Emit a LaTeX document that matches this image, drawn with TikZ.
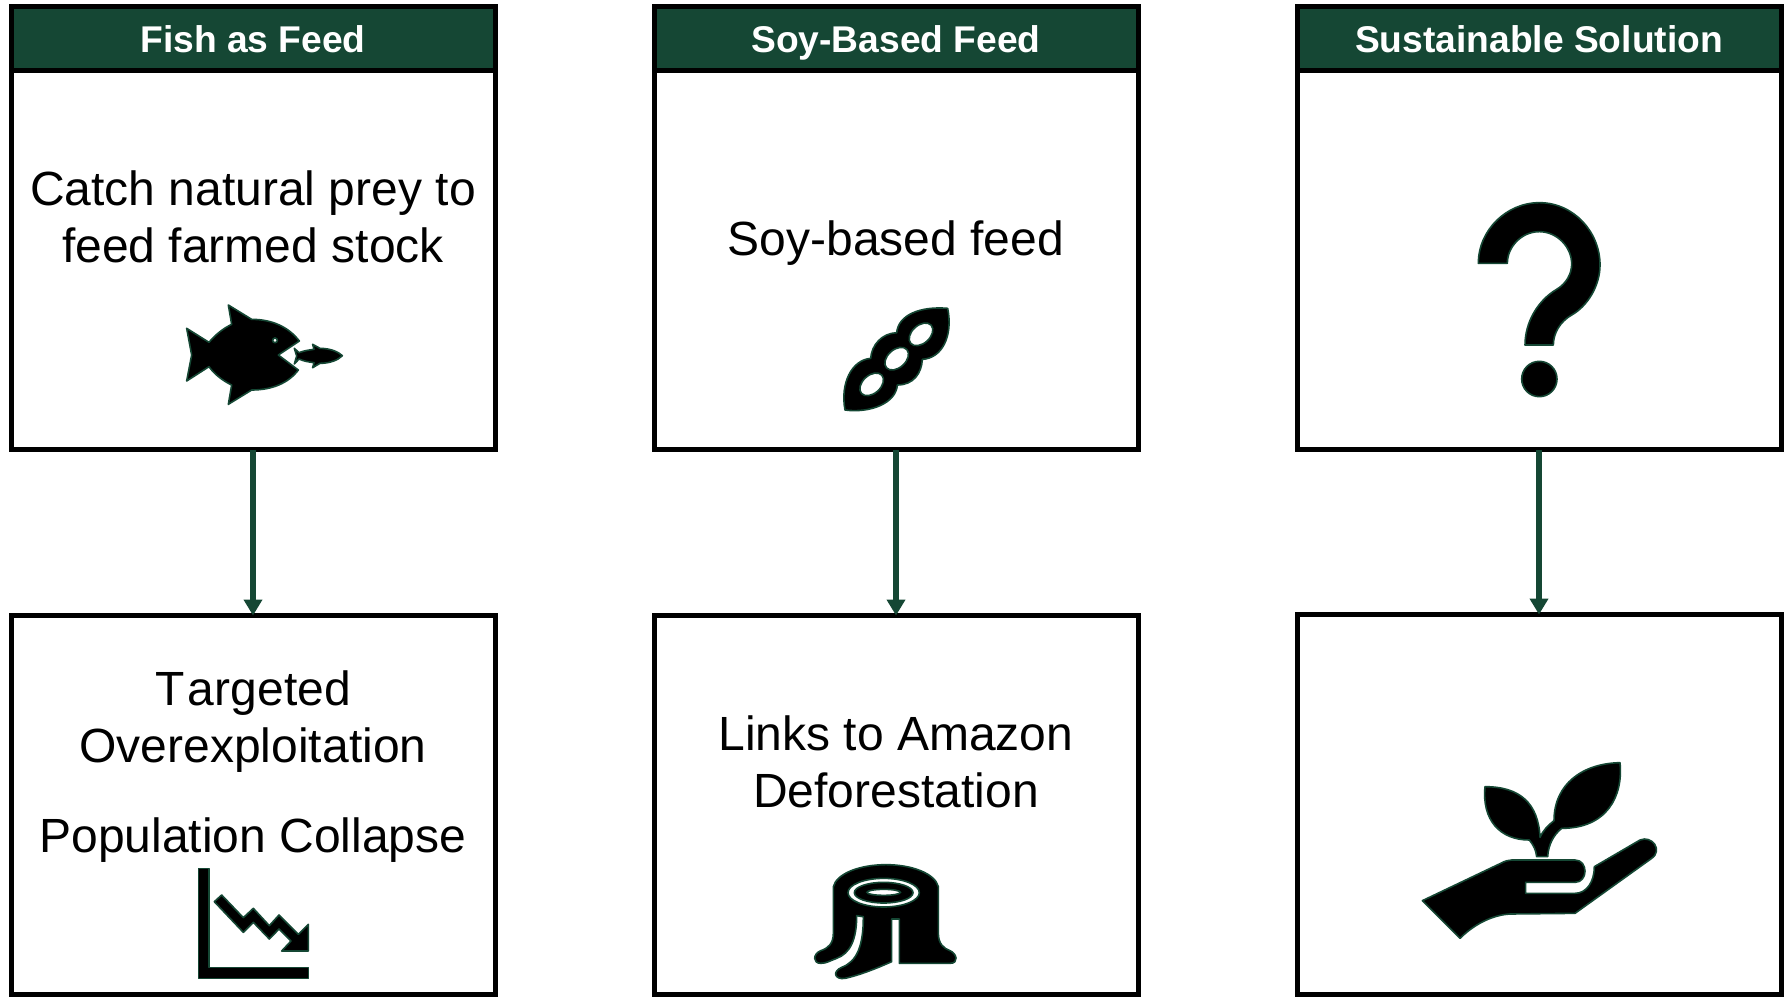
\documentclass[tikz,border=0pt]{standalone}
\usepackage{fontspec}
\setmainfont{Liberation Sans}
\usetikzlibrary{arrows.meta}
\definecolor{dkgreen}{HTML}{154734}
\tikzset{
  cardbox/.style={draw=black,line width=5pt,fill=white,rectangle,inner sep=0pt,outer sep=0pt,minimum width=484pt},
  headbox/.style={draw=black,line width=5pt,fill=dkgreen,rectangle,inner sep=0pt,outer sep=0pt,minimum width=484pt,minimum height=64pt,text=white,text height=27pt,text depth=0pt,font=\fontsize{37.2}{40}\selectfont\bfseries},
  bodytext/.style={align=center,inner sep=0pt,font=\fontsize{48}{57}\selectfont},
  flow/.style={draw=dkgreen,line width=6pt,-{Triangle[width=18pt,length=16pt]},shorten >=0pt},
  icon/.style={draw=dkgreen,line width=1.6pt,fill=black,line join=round},
  hole/.style={draw=dkgreen,line width=1.6pt,fill=white},
  zoomed/.style={shift={#1},scale=1/3}
}
\begin{document}
\begin{tikzpicture}[x=1pt,y=-1pt]
\path[use as bounding box] (0,0) rectangle (1787,996);
% top cards
\node[cardbox,minimum height=443.5pt] (a1) at (253,228) {};
\node[cardbox,minimum height=443.5pt] (a2) at (896,228) {};
\node[cardbox,minimum height=443.5pt] (a3) at (1539,228) {};
% bottom cards
\node[cardbox,minimum height=379pt] (b1) at (253,805) {};
\node[cardbox,minimum height=379pt] (b2) at (896,805) {};
\node[cardbox,minimum height=380pt] (b3) at (1539,804.5) {};
% headers
\node[headbox] (h1) at (253,38.5) {Fish as Feed};
\node[headbox] (h2) at (896,38.5) {Soy-Based Feed};
\node[headbox] (h3) at (1539,38.5) {Sustainable Solution};
% texts
\node[bodytext] (t1) at (253,216.5) {Catch natural prey to\\feed farmed stock};
\node[bodytext] (t2) at (896,243) {Soy-based feed};
\node[bodytext] (t3) at (253,722) {T\kern3.5pt argeted\\Overexploitation};
\node[bodytext] (t4) at (253,840) {Population Collapse};
\node[bodytext] (t5) at (896,762) {Links to Amazon\\Deforestation};
% connectors
\draw[flow] (a1.south) -- (b1.north);
\draw[flow] (a2.south) -- (b2.north);
\draw[flow] (a3.south) -- (b3.north);
% fish
\begin{scope}[zoomed={(150,280)}]
\draw[icon] (110,145) -- (177,187) .. controls (195,165) and (220,145) .. (245,133) -- (235,75) -- (305,118)
  .. controls (365,118) and (415,140) .. (448,183) -- (385,225) -- (445,270)
  .. controls (415,310) and (365,330) .. (305,330) -- (235,373) -- (245,315)
  .. controls (220,303) and (195,285) .. (177,260) -- (110,303) -- (125,225) -- cycle;
\draw[hole] (375,181) circle (7);
\draw[icon] (433,205) -- (447,218) .. controls (460,213) and (475,210) .. (492,208) -- (488,193) -- (510,205)
  .. controls (540,205) and (565,215) .. (577,227)
  .. controls (565,240) and (540,250) .. (510,250) -- (488,263) -- (492,248)
  .. controls (475,246) and (460,243) .. (447,237) -- (433,252) -- (440,228) -- cycle;
\end{scope}
% soy
\begin{scope}[zoomed={(810,280)}]
\draw[icon] (413,85) .. controls (330,78) and (265,105) .. (260,158)
  .. controls (215,160) and (185,195) .. (182,235)
  .. controls (125,240) and (90,310) .. (105,390)
  .. controls (180,400) and (258,370) .. (262,315)
  .. controls (310,315) and (335,280) .. (337,238)
  .. controls (395,235) and (430,170) .. (413,85) -- cycle;
\draw[hole,rotate around={42:(333,163)}] (333,163) ellipse (41 and 27);
\draw[hole,rotate around={42:(260,236)}] (260,236) ellipse (41 and 27);
\draw[hole,rotate around={42:(185,313)}] (185,313) ellipse (41 and 27);
\end{scope}
% question mark
\begin{scope}[zoomed={(1450,190)}]
\draw[icon] (85,220) .. controls (85,120) and (170,38) .. (268,38)
  .. controls (370,38) and (450,125) .. (450,225)
  .. controls (450,290) and (410,350) .. (365,375)
  .. controls (330,395) and (310,430) .. (310,465) -- (225,465)
  .. controls (225,395) and (265,330) .. (320,298)
  .. controls (350,280) and (365,250) .. (365,222)
  .. controls (365,170) and (320,125) .. (268,125)
  .. controls (215,125) and (172,170) .. (172,220) -- cycle;
\draw[icon] (268,567) circle (53);
\end{scope}
% chart
\begin{scope}[zoomed={(180,850)}]
\draw[icon] (55,55) -- (87,55) -- (87,353) -- (385,353) -- (385,385) -- (55,385) -- cycle;
\draw[icon] (103,155) -- (125,135) -- (190,203) -- (220,175) -- (268,227) -- (297,195) -- (355,253) -- (385,223)
  -- (385,303) -- (305,303) -- (333,273) -- (297,237) -- (268,267) -- (220,217) -- (190,247) -- cycle;
\end{scope}
% stump
\begin{scope}[zoomed={(800,850)}]
\draw[icon] (100,110) .. controls (110,70) and (180,44) .. (258,44)
  .. controls (335,44) and (405,70) .. (415,110) -- (415,250)
  .. controls (415,280) and (430,295) .. (450,302)
  .. controls (470,310) and (478,340) .. (450,340) -- (298,340) -- (298,207) -- (275,207) -- (275,335)
  .. controls (230,355) and (180,375) .. (135,385)
  .. controls (105,390) and (95,365) .. (125,352)
  .. controls (170,335) and (190,290) .. (190,200) -- (170,197)
  .. controls (170,270) and (150,310) .. (110,325)
  .. controls (90,332) and (80,340) .. (62,340)
  .. controls (38,340) and (38,312) .. (62,302)
  .. controls (85,295) and (100,280) .. (100,250) -- cycle;
\draw[hole] (251,128) ellipse (107 and 43);
\draw[icon] (251,128) ellipse (88 and 31);
\draw[hole] (251,127) ellipse (50 and 9);
\end{scope}
% hand and plant
\begin{scope}[zoomed={(1410,750)}]
\draw[icon] (37,452) -- (272,340) .. controls (285,333) and (295,330) .. (305,330) -- (495,330)
  .. controls (535,330) and (535,397) .. (495,397) -- (347,397) -- (347,430) -- (495,430)
  .. controls (530,430) and (553,395) .. (553,350) -- (690,270)
  .. controls (725,255) and (760,300) .. (725,325) -- (495,490) -- (300,492)
  .. controls (245,495) and (190,525) .. (150,565) -- cycle;
\draw[icon] (225,110) .. controls (330,110) and (385,160) .. (390,262)
  .. controls (400,240) and (415,225) .. (432,212)
  .. controls (432,100) and (520,40) .. (630,38)
  .. controls (640,140) and (590,235) .. (455,235)
  .. controls (430,255) and (415,285) .. (413,320) -- (380,320)
  .. controls (378,300) and (370,285) .. (358,270)
  .. controls (270,270) and (215,210) .. (225,110) -- cycle;
\end{scope}
\end{tikzpicture}
\end{document}
